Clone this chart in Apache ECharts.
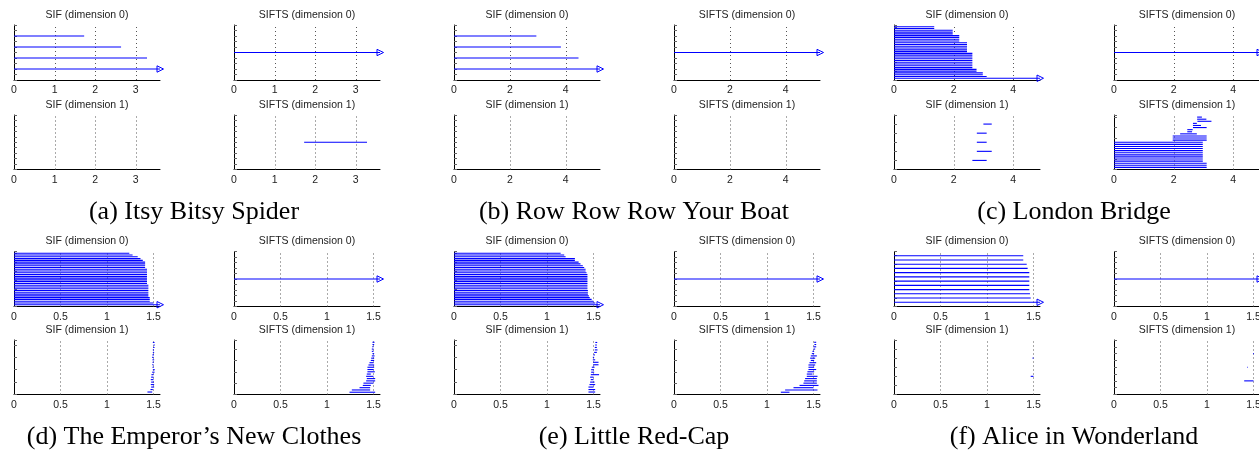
<!DOCTYPE html>
<html><head><meta charset="utf-8">
<script src="https://cdn.jsdelivr.net/npm/echarts@6/dist/echarts.min.js"></script>
<style>html,body{margin:0;padding:0;background:#fff}#c{width:1259px;height:452px}</style>
</head><body><div id="c"></div>
<script>
// ---------- text ----------
const captions = ["(a) Itsy Bitsy Spider", "(b) Row Row Row Your Boat", "(c) London Bridge",
  "(d) The Emperor\u2019s New Clothes", "(e) Little Red-Cap", "(f) Alice in Wonderland"];
const subTitles = ["SIF (dimension 0)", "SIFTS (dimension 0)", "SIF (dimension 1)", "SIFTS (dimension 1)"];

// ---------- x axes ----------
const xMax = [3.6, 5.23, 4.9, 1.57, 1.57, 1.57];
const xStep = [1, 2, 2, 0.5, 0.5, 0.5];
const xGridTicks = [[1, 2, 3], [2, 4], [2, 4], [0.5, 1, 1.5], [0.5, 1, 1.5], [0.5, 1, 1.5]];

// ---------- barcodes: [birth, death], death null = infinite; listed bottom to top ----------
const a_sif0 = [[0, null], [0, 3.28], [0, 2.64], [0, 1.73]];
const a_sifts0 = [[0, null]];
const a_sif1 = [];
const a_sifts1 = [[1.73, 3.28]];

const b_sif0 = [[0, null], [0, 4.46], [0, 3.83], [0, 2.95]];
const b_sifts0 = [[0, null]];
const b_sif1 = [];
const b_sifts1 = [];

const c_sif0 = [[0, null], [0, 3.11], [0, 2.98], [0, 2.98], [0, 2.77], [0, 2.77],
  [0, 2.63], [0, 2.63], [0, 2.63], [0, 2.63], [0, 2.63], [0, 2.63], [0, 2.63], [0, 2.63], [0, 2.63],
  [0, 2.45], [0, 2.45], [0, 2.45], [0, 2.45], [0, 2.45], [0, 2.45],
  [0, 2.19], [0, 2.19], [0, 2.19], [0, 2.19], [0, 1.97], [0, 1.97], [0, 1.97], [0, 1.35], [0, 1.35]];
const c_sifts0 = [[0, null]];
const c_sif1 = [[2.63, 3.11], [2.78, 3.28], [2.78, 3.11], [2.78, 3.11], [3.0, 3.28]];
const c_sifts1 = [[0, 3.11], [0, 3.11], [0, 3.11],
  [0, 2.98], [0, 2.98], [0, 2.98], [0, 2.98], [0, 2.98], [0, 2.98], [0, 2.98], [0, 2.98], [0, 2.98], [0, 2.98],
  [1.97, 3.11], [1.97, 3.11], [1.97, 3.11], [2.22, 2.78], [2.46, 2.62], [2.46, 2.64],
  [2.65, 3.11], [2.65, 2.92], [2.65, 2.78], [2.80, 3.27], [2.79, 3.10], [2.79, 2.95]];

const d_sif0 = [[0, null], [0, 1.50], [0, 1.46], [0, 1.46], [0, 1.46],
  [0, 1.445], [0, 1.445], [0, 1.445], [0, 1.445], [0, 1.445], [0, 1.445], [0, 1.445],
  [0, 1.43], [0, 1.43], [0, 1.43], [0, 1.43], [0, 1.43], [0, 1.43], [0, 1.43], [0, 1.43], [0, 1.43],
  [0, 1.41], [0, 1.41], [0, 1.41], [0, 1.41], [0, 1.385], [0, 1.36], [0, 1.33], [0, 1.275], [0, 1.24]];
const d_sifts0 = [[0, null]];
const d_sif1 = [[1.435, 1.486], [1.468, 1.493], [1.475, 1.507], [1.471, 1.507], [1.475, 1.504],
  [1.471, 1.5], [1.475, 1.5], [1.478, 1.5], [1.486, 1.511], [1.493, 1.514], [1.489, 1.504],
  [1.486, 1.5], [1.489, 1.504], [1.489, 1.507], [1.486, 1.5], [1.489, 1.504], [1.493, 1.507],
  [1.493, 1.504], [1.496, 1.511], [1.5, 1.514], [1.493, 1.511]];
const d_sifts1 = [[1.242, 1.518], [1.267, 1.464], [1.35, 1.464], [1.385, 1.471], [1.392, 1.5],
  [1.421, 1.518], [1.428, 1.518], [1.421, 1.5], [1.428, 1.471], [1.435, 1.514], [1.435, 1.5],
  [1.435, 1.507], [1.446, 1.507], [1.457, 1.5], [1.471, 1.507], [1.475, 1.507], [1.482, 1.511],
  [1.489, 1.507], [1.482, 1.5], [1.482, 1.5], [1.486, 1.5], [1.489, 1.507], [1.489, 1.511]];

const e_sif0 = [[0, null], [0, 1.52], [0, 1.50], [0, 1.48], [0, 1.46], [0, 1.45],
  [0, 1.44], [0, 1.44], [0, 1.44],
  [0, 1.435], [0, 1.435], [0, 1.435], [0, 1.435], [0, 1.435], [0, 1.435], [0, 1.435], [0, 1.435], [0, 1.435],
  [0, 1.425], [0, 1.415], [0, 1.415], [0, 1.40], [0, 1.385], [0, 1.36], [0, 1.34],
  [0, 1.30], [0, 1.30], [0, 1.20], [0, 1.185], [0, 1.147]];
const e_sifts0 = [[0, null]];
const e_sif1 = [[1.446, 1.518], [1.446, 1.518], [1.446, 1.5], [1.457, 1.518], [1.464, 1.511],
  [1.471, 1.5], [1.464, 1.5], [1.471, 1.56], [1.475, 1.507], [1.475, 1.504], [1.482, 1.511],
  [1.496, 1.554], [1.496, 1.554], [1.493, 1.518], [1.493, 1.507], [1.5, 1.514], [1.507, 1.536],
  [1.514, 1.543], [1.514, 1.536], [1.518, 1.536], [1.52, 1.54]];
const e_sifts1 = [[1.149, 1.242], [1.195, 1.543], [1.285, 1.5], [1.35, 1.554], [1.392, 1.536],
  [1.40, 1.536], [1.41, 1.536], [1.428, 1.543], [1.428, 1.489], [1.435, 1.507], [1.446, 1.529],
  [1.446, 1.507], [1.446, 1.518], [1.457, 1.529], [1.471, 1.507], [1.464, 1.518], [1.471, 1.536],
  [1.482, 1.507], [1.489, 1.507], [1.5, 1.518], [1.5, 1.529], [1.51, 1.529], [1.507, 1.529]];

const f_sif0 = [[0, null], [0, 1.47], [0, 1.462], [0, 1.455], [0, 1.455], [0, 1.455], [0, 1.455],
  [0, 1.455], [0, 1.437], [0, 1.427], [0, 1.39], [0, 1.39]];
const f_sifts0 = [[0, null]];
const f_sif1 = [[1.47, 1.50], [1.49, 1.50]];
const f_sifts1 = [[1.40, 1.50], [1.433, 1.44], [1.497, 1.505]];

// order per panel: top-left, top-right, bottom-left, bottom-right
const panelBars = [
  [a_sif0, a_sifts0, a_sif1, a_sifts1],
  [b_sif0, b_sifts0, b_sif1, b_sifts1],
  [c_sif0, c_sifts0, c_sif1, c_sifts1],
  [d_sif0, d_sifts0, d_sif1, d_sifts1],
  [e_sif0, e_sifts0, e_sif1, e_sifts1],
  [f_sif0, f_sifts0, f_sif1, f_sifts1]
];

// ---------- layout ----------
const PANEL_LEFT = [14, 454, 894];
const SUB_DX = 220;
const ROW_TOPS = [[25, 115], [251.5, 340]];
const GRID_W = 146, GRID_H = [55, 54.5];
const CAPTION_Y = [212.5, 437.5];
const BLUE = '#0000ff';

function niceStep(range) {
  const c = [0.1, 0.2, 0.5, 1, 2, 5, 10];
  for (const s of c) if (range / s <= 10.001) return s;
  return 10;
}

function renderBar(params, api) {
  const b = api.value(0), d = api.value(1), y = api.value(2), inf = api.value(3);
  const p0 = api.coord([b, y]), p1 = api.coord([d, y]);
  const children = [{ type: 'line', shape: { x1: p0[0], y1: p0[1], x2: p1[0], y2: p1[1] },
    style: { stroke: BLUE, lineWidth: 1.1 } }];
  if (inf) {
    children.push({ type: 'polygon',
      shape: { points: [[p1[0] - 3, p1[1] - 3.2], [p1[0] + 3.5, p1[1]], [p1[0] - 3, p1[1] + 3.2]] },
      style: { stroke: BLUE, fill: 'none', lineWidth: 1 } });
  }
  return { type: 'group', children };
}

function renderGridLine(params, api) {
  const t = api.value(0), top = api.value(1);
  const p0 = api.coord([t, 0]), p1 = api.coord([t, top]);
  return { type: 'line', shape: { x1: Math.round(p0[0]) + 0.5, y1: p0[1], x2: Math.round(p1[0]) + 0.5, y2: p1[1] },
    style: { stroke: '#555', lineWidth: 1, lineDash: [1, 3] } };
}

const grid = [], xAxis = [], yAxis = [], series = [], graphic = [];
let gi = 0;
for (let p = 0; p < 6; p++) {
  const row = Math.floor(p / 3), col = p % 3;
  for (let s = 0; s < 4; s++) {
    const sr = Math.floor(s / 2), sc = s % 2;
    const left = PANEL_LEFT[col] + sc * SUB_DX;
    const top = ROW_TOPS[row][sr];
    const h = GRID_H[sr];
    const bars = panelBars[p][s];
    const yTop = bars.length + 1;
    grid.push({ left: left, top: top, width: GRID_W, height: h, outerBoundsMode: 'none', containLabel: false });
    xAxis.push({ gridIndex: gi, type: 'value', min: 0, max: xMax[p], interval: xStep[p],
      axisLine: { show: true, lineStyle: { color: '#000', width: 1 } },
      axisTick: { show: false }, splitLine: { show: false },
      axisLabel: { show: true, showMaxLabel: false, showMinLabel: true, fontSize: 10.5, color: '#222',
        margin: 5, fontFamily: 'Liberation Sans, Arial, sans-serif' } });
    yAxis.push({ gridIndex: gi, type: 'value', min: 0, max: yTop, interval: niceStep(yTop),
      axisLine: { show: true, lineStyle: { color: '#000', width: 1 } },
      axisTick: { show: true, inside: true, length: 3, lineStyle: { color: '#666' } },
      axisLabel: { show: false }, splitLine: { show: false } });
    series.push({ type: 'custom', xAxisIndex: gi, yAxisIndex: gi, z: 1, clip: false, silent: true,
      data: xGridTicks[p].map(t => [t, yTop]), encode: { x: 0, y: 1 }, renderItem: renderGridLine });
    series.push({ type: 'custom', xAxisIndex: gi, yAxisIndex: gi, z: 3, clip: false, silent: true,
      data: bars.map((bc, i) => [bc[0], bc[1] === null ? xMax[p] : bc[1], i + 1, bc[1] === null ? 1 : 0]),
      encode: { x: [0, 1], y: 2 }, renderItem: renderBar });
    graphic.push({ type: 'text', x: left + GRID_W / 2, y: top - 10, silent: true,
      style: { text: subTitles[s], textAlign: 'center', textVerticalAlign: 'middle',
        font: '10.5px "Liberation Sans", Arial, sans-serif', fill: '#222' } });
    gi++;
  }
  graphic.push({ type: 'text', x: PANEL_LEFT[col] + 180, y: CAPTION_Y[row], silent: true,
    style: { text: captions[p], textAlign: 'center', textVerticalAlign: 'middle',
      font: '26px "Liberation Serif", "Times New Roman", serif', fill: '#000' } });
}

const chart = echarts.init(document.getElementById('c'), null, { renderer: 'canvas' });
chart.setOption({ animation: false, backgroundColor: '#fff', grid, xAxis, yAxis, series, graphic });
</script>
</body></html>
